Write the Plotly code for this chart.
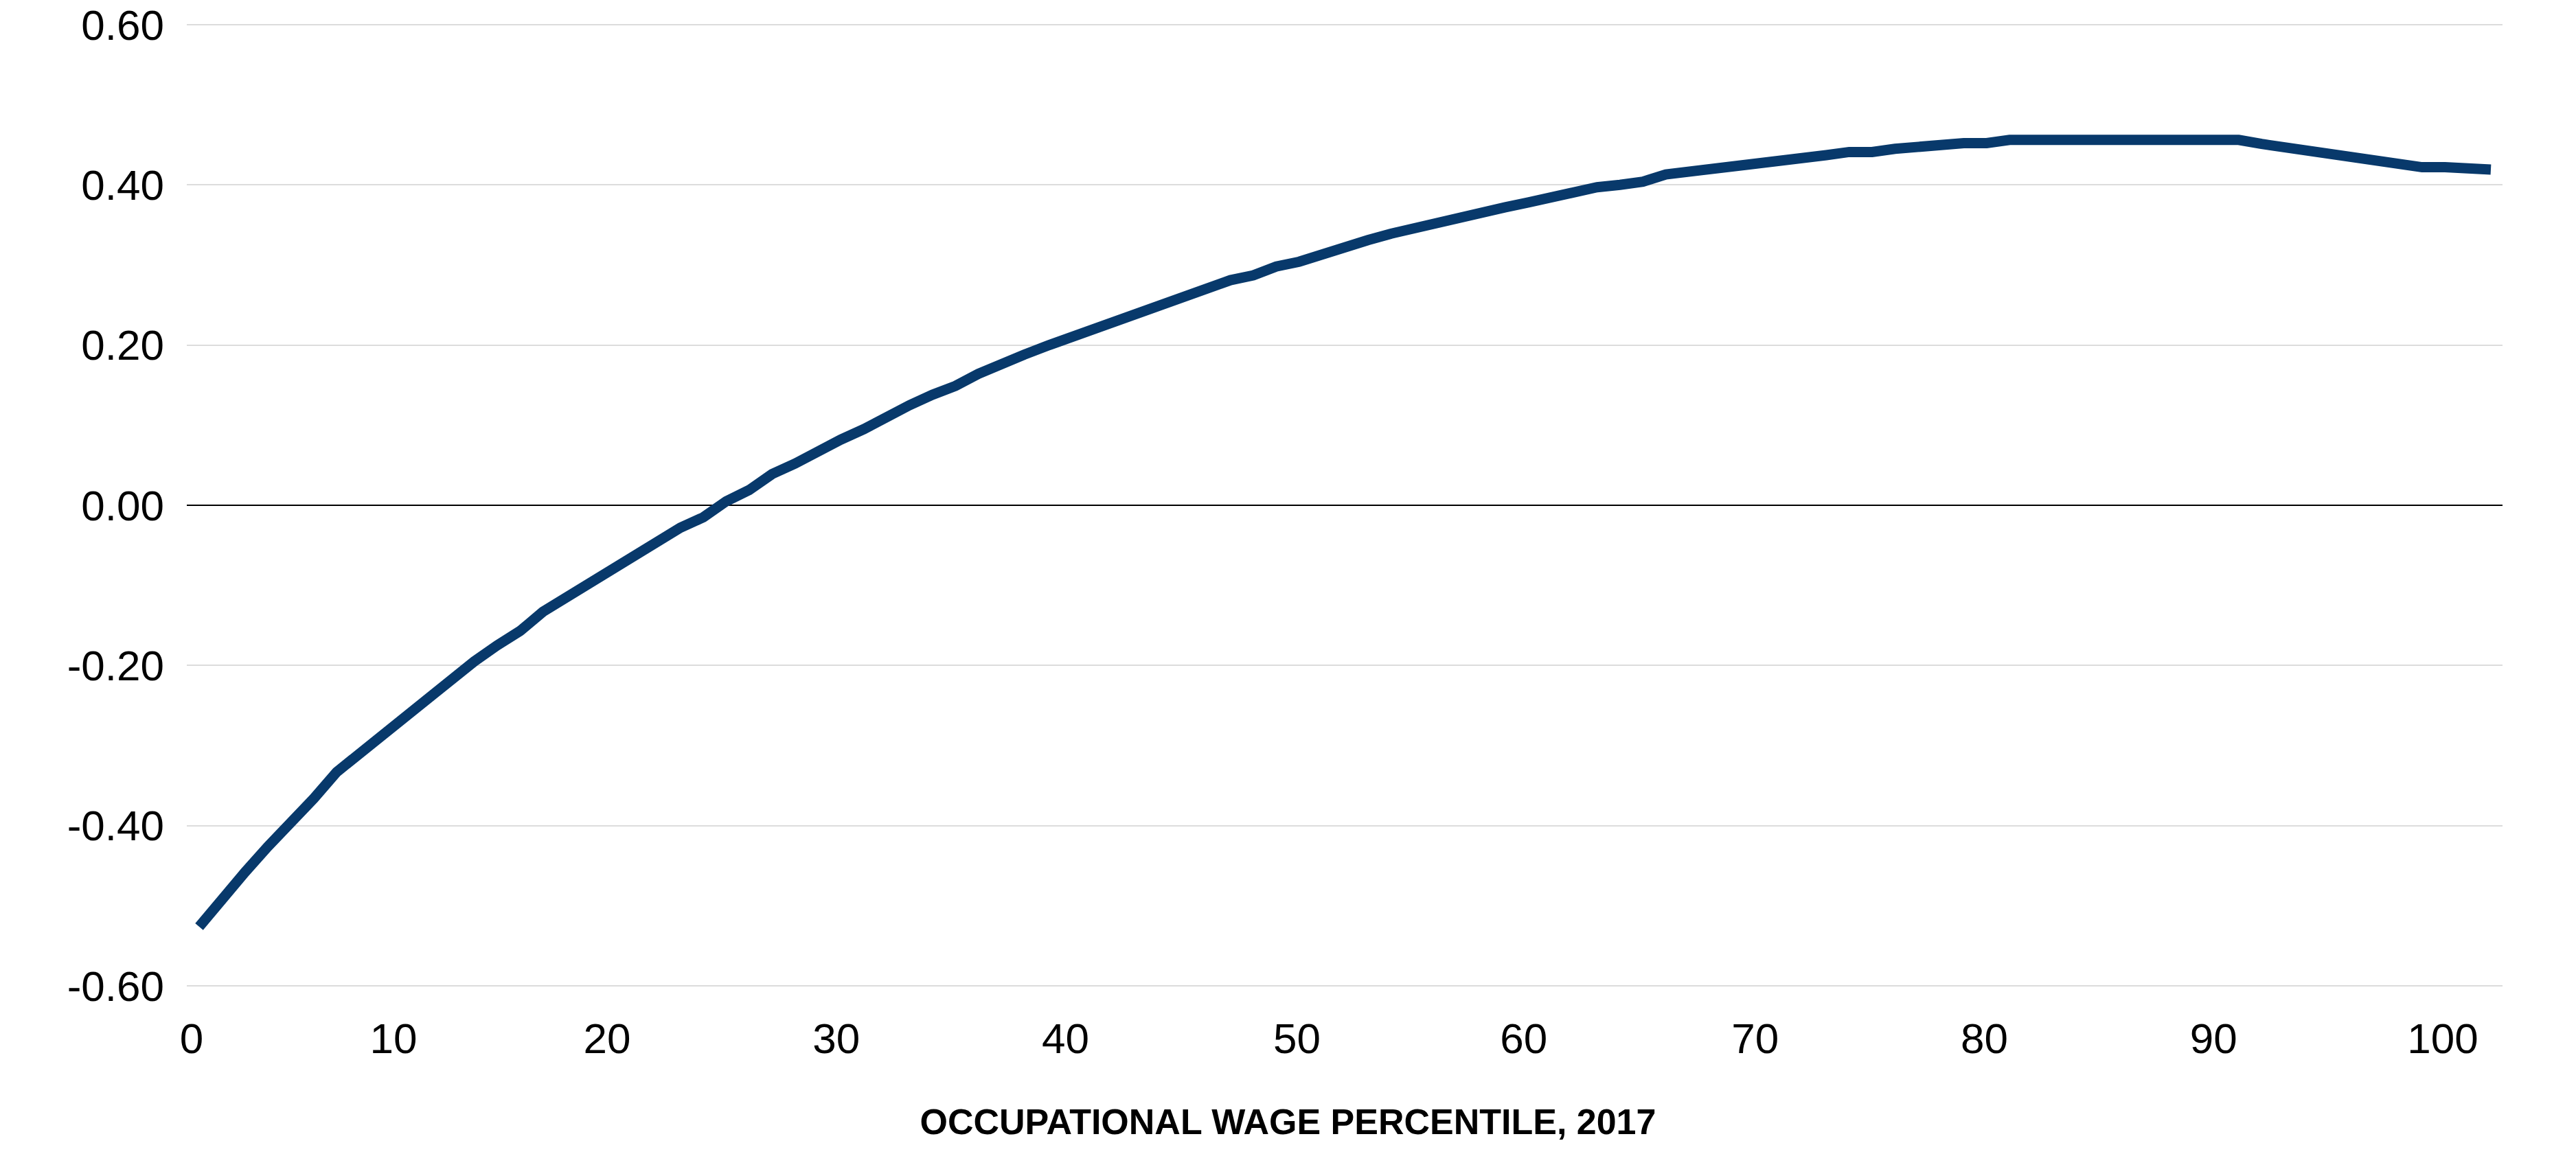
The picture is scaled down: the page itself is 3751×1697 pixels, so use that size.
import plotly.graph_objects as go

# Estimated series values (one point per percentile step)
WAGE_VALUES = [
    -0.526, -0.490, -0.458, -0.426, -0.397, -0.366, -0.333, -0.310, -0.286, -0.260,
    -0.237, -0.215, -0.195, -0.175, -0.157, -0.133, -0.115, -0.098, -0.081, -0.064,
    -0.045, -0.028, -0.015, 0.005, 0.019, 0.039, 0.052, 0.068, 0.082, 0.095,
    0.111, 0.125, 0.138, 0.149, 0.164, 0.177, 0.188, 0.199, 0.209, 0.222,
    0.232, 0.242, 0.251, 0.262, 0.269, 0.281, 0.287, 0.298, 0.304, 0.314,
    0.324, 0.331, 0.339, 0.346, 0.354, 0.361, 0.368, 0.372, 0.378, 0.385,
    0.391, 0.397, 0.400, 0.404, 0.413, 0.416, 0.420, 0.424, 0.427, 0.430,
    0.434, 0.437, 0.441, 0.441, 0.445, 0.448, 0.448, 0.452, 0.452, 0.456,
    0.456, 0.456, 0.456, 0.456, 0.459, 0.459, 0.459, 0.456, 0.456, 0.456,
    0.451, 0.447, 0.444, 0.440, 0.436, 0.431, 0.425, 0.422, 0.422, 0.419,
    0.419,
]
POINT_INDEX = list(range(len(WAGE_VALUES)))

X_TICK_LABELS = ["0", "10", "20", "30", "40", "50", "60", "70", "80", "90", "100"]
X_TICK_AT = [-0.33, 8.48, 17.8, 27.8, 37.8, 47.9, 57.8, 67.9, 77.9, 87.9, 97.9]

Y_TICKS = [-0.6, -0.4, -0.2, 0.0, 0.2, 0.4, 0.6]
Y_TICK_LABELS = [f"{v:.2f}" for v in Y_TICKS]

X_TITLE = "OCCUPATIONAL WAGE PERCENTILE, 2017"

fig = go.Figure()
fig.add_trace(go.Scatter(
    x=POINT_INDEX, y=WAGE_VALUES, mode="lines",
    line=dict(color="#08396B", width=15),
    hoverinfo="skip", showlegend=False,
))

fig.update_layout(
    width=3751, height=1697, autosize=False,
    margin=dict(l=272, r=107, t=30, b=255, pad=0),
    paper_bgcolor="white", plot_bgcolor="white",
    font=dict(family="Liberation Sans, Arial, sans-serif", color="#000000"),
    title=dict(
        text="<b>" + X_TITLE + "</b>",
        x=0.5, xref="container", xanchor="center",
        y=(1697 - 1634) / 1697, yref="container", yanchor="middle",
        font=dict(size=52, family="Liberation Sans, Arial, sans-serif", color="#000000"),
    ),
    xaxis=dict(
        range=[-0.54, 100.51], automargin=False,
        tickvals=X_TICK_AT, ticktext=X_TICK_LABELS,
        showgrid=False, zeroline=False, showline=False, ticks="",
        tickfont=dict(size=62), ticklabelstandoff=29,
        fixedrange=True,
    ),
    yaxis=dict(
        range=[-0.605, 0.605], automargin=False,
        tickvals=Y_TICKS, ticktext=Y_TICK_LABELS,
        showgrid=True, gridcolor="#dcdcdc", gridwidth=2,
        zeroline=True, zerolinecolor="#000000", zerolinewidth=2,
        showline=False, ticks="",
        tickfont=dict(size=62), ticklabelstandoff=32,
        fixedrange=True,
    ),
)

fig.write_html(
    "out.html",
    config={"displayModeBar": False},
    post_script="document.body.style.margin='0px';",
)
